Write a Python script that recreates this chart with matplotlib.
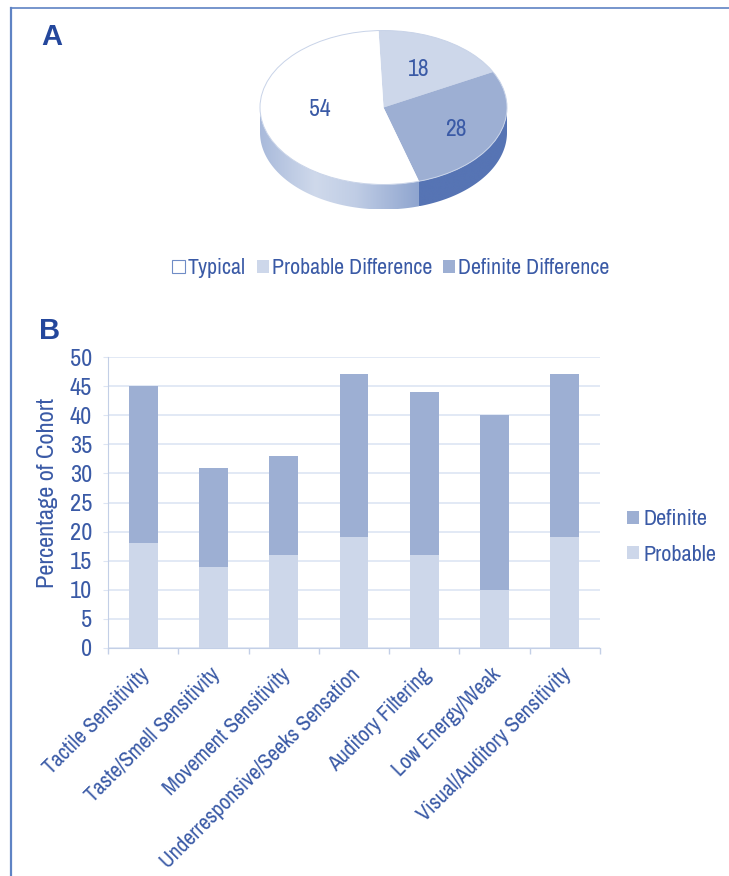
import numpy as np
import matplotlib
matplotlib.use("Agg")
import matplotlib.pyplot as plt
from matplotlib.lines import Line2D
from matplotlib.patches import Patch, PathPatch, Ellipse
from matplotlib.path import Path
from matplotlib.transforms import ScaledTranslation

pieLabels = ["Probable Difference", "Definite Difference", "Typical"]
pieValues = [18, 28, 54]

categories = ["Tactile Sensitivity", "Taste/Smell Sensitivity", "Movement Sensitivity",
              "Underresponsive/Seeks Sensation", "Auditory Filtering", "Low Energy/Weak",
              "Visual/Auditory Sensitivity"]
probable = [18, 14, 16, 19, 16, 10, 19]
definite = [27, 17, 17, 28, 28, 30, 28]

textColor = "#3a5aa6"
probableColor = "#cdd7ea"
definiteColor = "#9dafd3"
typicalColor = "#ffffff"
gridColor = "#dde5f3"
axisColor = "#c3cfe6"
frameColor = "#5f83c4"

plt.rcParams["font.family"] = ["Archivo Narrow", "Roboto Condensed", "PT Sans Narrow", "Liberation Sans"]

W, H = 729, 876
fig = plt.figure(figsize=(W / 100, H / 100), dpi=100)


def pixelAxes(left, top, right, bottom):
    return fig.add_axes([left / W, 1 - bottom / H, (right - left) / W, (bottom - top) / H])


# outer frame of the page
fig.add_artist(Line2D([11 / W, 11 / W], [0, 1 - 8 / H], color=frameColor, lw=1.6))
fig.add_artist(Line2D([11 / W, 1], [1 - 8 / H, 1 - 8 / H], color=frameColor, lw=1.2))

fig.text(41 / W, 1 - 37 / H, "A", color="#24479c", fontsize=21, fontweight="bold",
         family=["Liberation Sans"], va="center")
fig.text(39 / W, 1 - 331 / H, "B", color="#24479c", fontsize=21, fontweight="bold",
         family=["Liberation Sans"], va="center")

# pie, stretched into an ellipse
rx, ry, depth = 123.5, 77.0, 25.0
cx, cy = 383.5, 107.5
pieLeft, pieTop, pieRight, pieBottom = 250, 20, 517, 220
axPie = pixelAxes(pieLeft, pieTop, pieRight, pieBottom)
wedges, texts, autotexts = axPie.pie(
    pieValues, colors=[probableColor, definiteColor, typicalColor], startangle=92.3,
    counterclock=False, autopct=lambda p: f"{p:.0f}", pctdistance=0.58,
    wedgeprops={"linewidth": 0, "zorder": 3})
# label spots in page pixels, same order as the wedges
labelSpots = [(419, 69.5), (456, 130), (320, 110)]
for t, (px, py) in zip(autotexts, labelSpots):
    t.set_color(textColor)
    t.set_fontsize(17)
    t.set_zorder(5)
    t.set_position(((px - cx) / rx, (cy - py) / ry))
axPie.add_patch(Ellipse((0, 0), 2, 2, fill=False, ec="#c8d3e8", lw=0.7, zorder=4))

xlim = ((pieLeft - cx) / rx, (pieRight - cx) / rx)
ylim = ((cy - pieBottom) / ry, (cy - pieTop) / ry)
d = depth / ry


def sideGradient(wedge, stops):
    a0 = min(wedge.theta1, wedge.theta2) % 360
    a1 = a0 + abs(wedge.theta2 - wedge.theta1)
    lo, hi = max(a0, 180), min(a1, 360)
    if hi <= lo:
        return
    t = np.radians(np.linspace(lo, hi, 120))
    xs = np.concatenate([np.cos(t), np.cos(t[::-1])])
    ys = np.concatenate([np.sin(t), np.sin(t[::-1]) - d])
    verts = np.column_stack([xs, ys])
    path = Path(np.vstack([verts, verts[:1]]), closed=True)
    cols = matplotlib.colors.LinearSegmentedColormap.from_list("side", stops)
    grad = np.linspace(0, 1, 256).reshape(1, -1)
    im = axPie.imshow(grad, cmap=cols, aspect="auto", zorder=2, interpolation="bilinear",
                      extent=(xs.min(), xs.max(), ys.min(), ys.max()))
    im.set_clip_path(PathPatch(path, transform=axPie.transData))


sideGradient(wedges[2], [(0, "#a9badb"), (0.35, "#cfd9eb"), (0.6, "#c0cde5"), (1, "#8fa5cf")])
sideGradient(wedges[1], [(0, "#5674b4"), (1, "#5674b4")])
axPie.set_aspect("auto")
axPie.set_xlim(xlim)
axPie.set_ylim(ylim)
axPie.axis("off")

legendOrder = [2, 0, 1]
pieHandles = [Patch(facecolor=wedges[i].get_facecolor(), edgecolor="#6f8cc6" if i == 2 else "none",
                    lw=0.8, label=pieLabels[i]) for i in legendOrder]
fig.legend(handles=pieHandles, loc="center", bbox_to_anchor=(391 / W, 1 - 268.5 / H), ncols=3,
           frameon=False, fontsize=15.8, labelcolor=textColor, handlelength=0.55, handleheight=0.55,
           handletextpad=0.14, columnspacing=0.5)

# stacked bars
axBar = pixelAxes(108, 357, 600, 648)
xPos = np.arange(len(categories))
axBar.bar(xPos, probable, width=0.41, color=probableColor, label="Probable", zorder=3)
axBar.bar(xPos, definite, width=0.41, bottom=probable, color=definiteColor, label="Definite", zorder=3)
axBar.set_xlim(-0.5, len(categories) - 0.5)
axBar.set_ylim(0, 50)
axBar.set_yticks(np.arange(0, 51, 5))
axBar.set_xticks(xPos)
axBar.set_xticklabels(categories, rotation=45, ha="right", rotation_mode="anchor", color=textColor, fontsize=15.6)
axBar.set_xticks(np.arange(-0.5, len(categories)), minor=True)
axBar.tick_params(axis="x", which="major", length=0, pad=9)
axBar.tick_params(axis="x", which="minor", length=4, color=axisColor, width=1)
axBar.tick_params(axis="y", length=3.6, color=gridColor, pad=8, labelcolor=textColor, labelsize=17.5)
axBar.grid(axis="y", color=gridColor, lw=1.2, zorder=0)
axBar.set_axisbelow(True)
shift = ScaledTranslation(-4 / 100, -4 / 100, fig.dpi_scale_trans)
for lab in axBar.get_xticklabels():
    lab.set_transform(lab.get_transform() + shift)
for side in ["top", "right"]:
    axBar.spines[side].set_visible(False)
for side in ["left", "bottom"]:
    axBar.spines[side].set_color(axisColor)
axBar.set_ylabel("Percentage of Cohort", color=textColor, fontsize=17.5)
axBar.yaxis.set_label_coords(-0.102, 0.534)

handles, labels = axBar.get_legend_handles_labels()
axBar.legend(handles[::-1], labels[::-1], loc="center left", bbox_to_anchor=(1.055, 0.382), frameon=False,
             fontsize=16, labelcolor=textColor, handlelength=0.55, handleheight=0.55,
             handletextpad=0.2, labelspacing=0.7, borderpad=0, borderaxespad=0)

fig.savefig("out.png", dpi=100, facecolor="white")
